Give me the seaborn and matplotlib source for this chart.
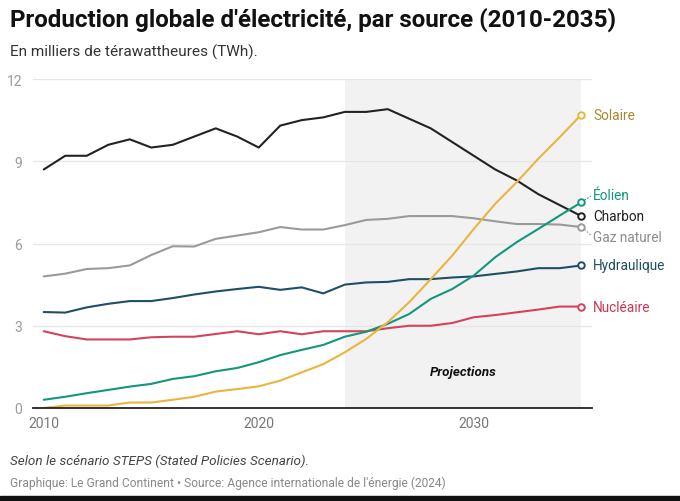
import matplotlib
matplotlib.use('Agg')
import matplotlib.pyplot as plt
from matplotlib.patches import Rectangle
import seaborn as sb
import pandas as pd
import numpy as np

years = list(range(2010, 2036))

charbon = [8.7, 9.2, 9.2, 9.6, 9.8, 9.5, 9.6, 9.9, 10.2, 9.9, 9.5, 10.3, 10.5, 10.6,
           10.8, 10.8, 10.9, 10.55, 10.2, 9.7, 9.2, 8.7, 8.3, 7.8, 7.4, 7.0]
gaz = [4.8, 4.9, 5.07, 5.1, 5.2, 5.58, 5.9, 5.89, 6.17, 6.29, 6.41, 6.6, 6.51, 6.51,
       6.67, 6.86, 6.9, 7.0, 7.0, 7.0, 6.92, 6.81, 6.71, 6.71, 6.69, 6.6]
hydraulique = [3.5, 3.48, 3.67, 3.8, 3.9, 3.9, 4.01, 4.14, 4.25, 4.34, 4.42, 4.31, 4.4, 4.18,
               4.5, 4.58, 4.6, 4.7, 4.7, 4.76, 4.8, 4.89, 4.98, 5.1, 5.1, 5.2]
nucleaire = [2.8, 2.62, 2.5, 2.5, 2.5, 2.58, 2.6, 2.6, 2.7, 2.8, 2.69, 2.8, 2.69, 2.8,
             2.8, 2.8, 2.91, 3.0, 3.0, 3.1, 3.31, 3.39, 3.49, 3.59, 3.7, 3.7]
eolien = [0.3, 0.41, 0.54, 0.66, 0.78, 0.88, 1.06, 1.16, 1.34, 1.46, 1.67, 1.93, 2.12, 2.3,
          2.6, 2.78, 3.07, 3.43, 3.98, 4.34, 4.83, 5.5, 6.05, 6.53, 7.02, 7.5]
solaire = [0.0, 0.09, 0.09, 0.09, 0.2, 0.2, 0.3, 0.41, 0.6, 0.69, 0.79, 1.0, 1.3, 1.6,
           2.03, 2.52, 3.13, 3.86, 4.7, 5.56, 6.53, 7.45, 8.24, 9.09, 9.88, 10.7]

sources = ['Charbon', 'Gaz naturel', 'Hydraulique', 'Nucléaire', 'Éolien', 'Solaire']
line_colors = {'Charbon': '#222222', 'Gaz naturel': '#9a9a9a', 'Hydraulique': '#1f4f66',
               'Nucléaire': '#d2445a', 'Éolien': '#13967c', 'Solaire': '#e9b53f'}
label_colors = {'Charbon': '#222222', 'Gaz naturel': '#8c8c8c', 'Hydraulique': '#1f4f66',
                'Nucléaire': '#c8384f', 'Éolien': '#13967c', 'Solaire': '#a8892c'}
# label y positions (shifted where labels would overlap)
label_y = {'Charbon': 7.0, 'Gaz naturel': 6.25, 'Hydraulique': 5.2,
           'Nucléaire': 3.7, 'Éolien': 7.78, 'Solaire': 10.7}

projection_start = 2024
x_ticks = [2010, 2020, 2030]
y_ticks = [0, 3, 6, 9, 12]

data = pd.DataFrame({'year': years, 'Charbon': charbon, 'Gaz naturel': gaz,
                     'Hydraulique': hydraulique, 'Nucléaire': nucleaire,
                     'Éolien': eolien, 'Solaire': solaire})
long_data = data.melt(id_vars='year', var_name='source', value_name='twh')

sb.set_theme(style='white')
plt.rcParams['font.family'] = ['Roboto', 'DejaVu Sans']

fig = plt.figure(figsize=(6.8, 5.02), dpi=100)
ax = fig.add_axes([33 / 680, 1 - 409 / 502, (592 - 33) / 680, (409 - 80) / 502])

ax.axvspan(projection_start, years[-1], color='#f2f2f2', zorder=0, lw=0)
for yt in y_ticks[1:]:
    ax.axhline(yt, color='#e6e6e6', lw=0.9, zorder=0.5)

sb.lineplot(data=long_data, x='year', y='twh', hue='source', hue_order=sources,
            palette=line_colors, linewidth=1.5, legend=False, ax=ax, zorder=3,
            solid_joinstyle='round', solid_capstyle='round')

for s in sources:
    last = data[s].iloc[-1]
    ax.scatter([years[-1]], [last], s=22, facecolor='white', edgecolor=line_colors[s],
               linewidth=1.4, zorder=5, clip_on=False)
    ax.text(years[-1] + 0.55, label_y[s], s, color=label_colors[s], fontsize=9.8,
            va='center', ha='left', clip_on=False)

# small leader lines for the shifted labels
ax.plot([years[-1] + 0.15, years[-1] + 0.45], [eolien[-1] + 0.08, label_y['Éolien'] - 0.05],
        color=line_colors['Éolien'], lw=0.8, ls=(0, (1.5, 1.5)), clip_on=False)
ax.plot([years[-1] + 0.15, years[-1] + 0.45], [gaz[-1] - 0.08, label_y['Gaz naturel'] + 0.05],
        color=line_colors['Gaz naturel'], lw=0.8, ls=(0, (1.5, 1.5)), clip_on=False)

ax.text(2029.5, 1.32, 'Projections', fontsize=9.6, fontweight='bold', fontstyle='italic',
        color='#111111', ha='center', va='center')

ax.set_xlim(2009.5, 2035.5)
ax.set_ylim(0, 12)
ax.set_xticks(x_ticks)
ax.set_yticks(y_ticks)
ax.set_xlabel('')
ax.set_ylabel('')
ax.tick_params(axis='x', colors='#777777', labelsize=10, length=0, pad=6)
ax.tick_params(axis='y', colors='#9a9a9a', labelsize=10, length=0, pad=8)
for sp in ['top', 'right', 'left']:
    ax.spines[sp].set_visible(False)
ax.spines['bottom'].set_color('#222222')
ax.spines['bottom'].set_linewidth(1.3)
ax.spines['bottom'].set_zorder(4)

fig.text(10 / 680, 1 - 20 / 502, "Production globale d'électricité, par source (2010-2035)",
         fontsize=17.4, fontweight='bold', color='#111111', va='center', ha='left')
fig.text(10 / 680, 1 - 52 / 502, 'En milliers de térawattheures (TWh).',
         fontsize=11.1, color='#333333', va='center', ha='left')
fig.text(10 / 680, 1 - 461 / 502, 'Selon le scénario STEPS (Stated Policies Scenario).',
         fontsize=9.7, fontstyle='italic', color='#444444', va='center', ha='left')
fig.text(10 / 680, 1 - 483 / 502,
         "Graphique: Le Grand Continent \u2022 Source: Agence internationale de l'énergie (2024)",
         fontsize=8.65, color='#888888', va='center', ha='left')

fig.patches.append(Rectangle((0, 0), 1, 5 / 502, transform=fig.transFigure,
                             color='#111111', zorder=10))

fig.savefig('out.png', dpi=100, facecolor='white')
